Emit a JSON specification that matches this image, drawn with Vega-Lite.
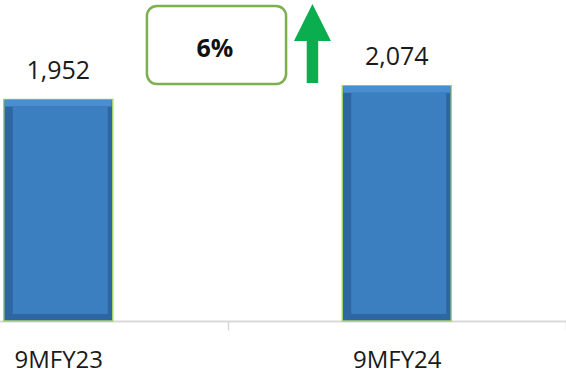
{
  "$schema": "https://vega.github.io/schema/vega-lite/v6.json",
  "width": 566,
  "height": 321,
  "autosize": "none",
  "padding": {"left": 0, "top": 0, "right": 0, "bottom": 52},
  "background": "white",
  "config": {"view": {"stroke": null}, "font": "Open Sans"},
  "layer": [
    {
      "data": {"values": [
        {"period": "9MFY23", "value": 1952},
        {"period": "9MFY24", "value": 2074}
      ]},
      "encoding": {
        "x": {
          "field": "period", "type": "nominal", "sort": null,
          "scale": {"range": [-111, 566], "paddingInner": 0, "paddingOuter": 0},
          "axis": {
            "title": null, "labelAngle": 0, "domainColor": "#D9D9D9", "domainWidth": 2,
            "tickColor": "#D9D9D9", "tickWidth": 1.5, "tickSize": 9, "tickBand": "extent",
            "labelFontSize": 24, "labelColor": "#1a1a1a", "labelFont": "Open Sans",
            "labelBaseline": "alphabetic", "labelPadding": 37
          }
        },
        "y": {"field": "value", "type": "quantitative", "scale": {"domain": [0, 2830], "nice": false}, "axis": null}
      },
      "layer": [
        {"mark": {"type": "bar", "color": "#2D66A0", "stroke": "#A8D46F", "strokeWidth": 1.5, "width": 109}},
        {
          "mark": {"type": "bar", "color": "#4A8ED2", "width": 107, "y2Offset": 7},
          "encoding": {"y2": {"field": "value"}}
        },
        {
          "mark": {"type": "bar", "color": "#3B7FC1", "width": 95, "xOffset": 2, "yOffset": 7, "y2Offset": -7},
          "encoding": {"y2": {"datum": 0}}
        },
        {
          "mark": {"type": "text", "fontSize": 25, "font": "Open Sans", "color": "#1a1a1a", "baseline": "alphabetic", "dy": -21},
          "encoding": {"text": {"field": "value", "type": "quantitative", "format": ","}}
        }
      ]
    },
    {
      "data": {"values": [{}]},
      "layer": [
        {
          "mark": {"type": "rect", "fill": "white", "stroke": "#7DAE4F", "strokeWidth": 2.5, "cornerRadius": 10},
          "encoding": {
            "x": {"datum": 1.262, "type": "quantitative", "scale": {"domain": [0.5, 2.5], "range": [-111, 566]}, "axis": null},
            "x2": {"datum": 1.673},
            "y": {"datum": 2777, "type": "quantitative", "scale": {"domain": [0, 2830], "nice": false}, "axis": null},
            "y2": {"datum": 2089}
          }
        },
        {
          "mark": {"type": "text", "fontSize": 25, "fontWeight": "bold", "font": "Open Sans", "color": "#111111", "baseline": "middle", "align": "center"},
          "encoding": {
            "x": {"datum": 1.463, "type": "quantitative", "scale": {"domain": [0.5, 2.5], "range": [-111, 566]}, "axis": null},
            "y": {"datum": 2398, "type": "quantitative", "scale": {"domain": [0, 2830], "nice": false}, "axis": null},
            "text": {"value": "6%"}
          }
        },
        {
          "mark": {"type": "point", "filled": true, "color": "#0AAE4E", "opacity": 1, "strokeWidth": 0, "size": 1369,
                   "shape": "M0,-2.135L1,-0.135L0.31,-0.135L0.31,2.135L-0.31,2.135L-0.31,-0.135L-1,-0.135Z"},
          "encoding": {
            "x": {"datum": 1.751, "type": "quantitative", "scale": {"domain": [0.5, 2.5], "range": [-111, 566]}, "axis": null},
            "y": {"datum": 2446, "type": "quantitative", "scale": {"domain": [0, 2830], "nice": false}, "axis": null}
          }
        }
      ]
    }
  ],
  "resolve": {"scale": {"x": "independent"}}
}
